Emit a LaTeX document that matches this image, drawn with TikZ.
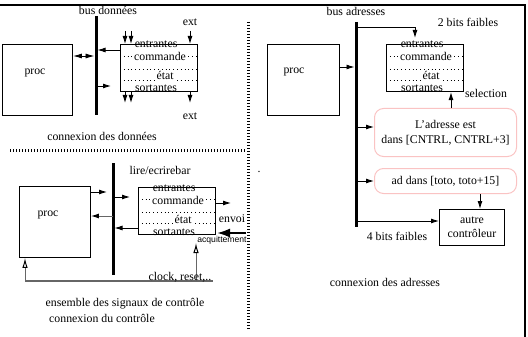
\documentclass[tikz,border=0pt]{standalone}
\usepackage{fontspec}
\setmainfont{Liberation Serif}
\newfontfamily\sansfam{Liberation Sans}
\usetikzlibrary{arrows.meta}
\definecolor{condpink}{RGB}{250,195,195}
\newcommand{\dfont}{\fontsize{11.8}{14}\selectfont}
% controller block: name, x, y of the upper left corner
\newcommand{\ctlunit}[3]{%
  \node[ctl, anchor=north west] (#1) at (#2,#3) {};
  \draw[innerdots] ([yshift=-12pt]#1.north west) -- ([yshift=-12pt]#1.north east);
  \draw[innerdots] ([yshift=-25pt]#1.north west) -- ([yshift=-25pt]#1.north east);
  \draw[innerdots] ([yshift=-36pt]#1.north west) -- ([yshift=-36pt]#1.north east);
  \node[txt] (#1-e) at ([xshift=-3pt,yshift=-1pt]#1.north) {entrantes};
  \node[txt, fill=white, inner xsep=1pt] (#1-c) at ([xshift=1pt,yshift=-14pt]#1.north) {commande};
  \node[txt, fill=white, inner xsep=1pt] (#1-t) at ([xshift=6pt,yshift=-33pt]#1.north) {état};
  \node[txt] (#1-s) at ([xshift=-3pt,yshift=-45pt]#1.north) {sortantes};
}
\begin{document}
\begin{tikzpicture}[x=1pt,y=-1pt,
  txt/.style={inner sep=0pt, font=\dfont, text height=8.5pt, text depth=2.5pt},
  procbox/.style={draw, line width=0.9pt, inner sep=0pt},
  ctl/.style={draw, line width=1.1pt, minimum width=77pt, minimum height=47pt, inner sep=0pt},
  cond/.style={draw=condpink, line width=1pt, rounded corners=9pt, inner sep=0pt, font=\dfont, align=center},
  innerdots/.style={line width=0.8pt, dash pattern=on 0.8pt off 3pt},
  sepdots/.style={line width=3pt, dash pattern=on 1pt off 2pt},
  bus/.style={line width=3pt},
  arr/.style={-{Latex[length=8pt,width=5pt]}, line width=0.9pt},
  dblarr/.style={{Latex[length=9pt,width=5pt]}-{Latex[length=9pt,width=5pt]}, line width=0.9pt},
  greyarr/.style={-{Latex[length=8pt,width=5pt,color=black]}, line width=1pt, draw=black!60},
  bigarr/.style={-{Latex[length=13pt,width=9pt]}, line width=2pt},
  hollow/.style={-{Latex[open,length=10pt,width=5.5pt,color=black,line width=1pt]}, line width=1pt, draw=black!60},
  greyline/.style={line width=1.3pt, draw=black!60}]
\useasboundingbox (0,0) rectangle (528,337);

% outer frame and separators
\draw[line width=2.5pt] (0,5) -- (525,5) -- (525,337);
\draw[sepdots] (248,22) -- (248,330);
\draw[sepdots] (10,150) -- (245,150);
\node[txt] (mark) at (259,169) {.};

% ---------------- data connection ----------------
\node[txt] (busAlbl) at (108,12) {bus données};
\coordinate (busAt) at (96,16);
\coordinate (busAb) at (96,115);
\draw[bus] (busAt) -- (busAb);
\node[procbox, anchor=north west, minimum width=70pt, minimum height=71pt] (procA) at (2,44) {};
\node[txt] (procAlbl) at (35,72) {proc};
\ctlunit{ctlA}{120}{44}
\coordinate (busA1) at (96,56);
\draw[dblarr, shorten >=1.5pt] (procA.east |- busA1) -- (busA1);
\coordinate (busA2) at (96,50);
\draw[arr, shorten >=1.5pt] (ctlA.west |- busA2) -- (busA2);
\coordinate (busA3) at (96,86);
\coordinate (endA3) at (111,86);
\draw[arr] (busA3) -- (endA3);
\coordinate (inA1) at (125,31);
\coordinate (inA2) at (131,31);
\coordinate (inA3) at (190,31);
\draw[arr] (inA1) -- (inA1 |- ctlA.north);
\draw[arr] (inA2) -- (inA2 |- ctlA.north);
\draw[arr] (inA3) -- (inA3 |- ctlA.north);
\coordinate (outA1) at (125,103);
\coordinate (outA2) at (131,103);
\coordinate (outA3) at (190,103);
\draw[arr] (outA1 |- ctlA.south) -- (outA1);
\draw[arr] (outA2 |- ctlA.south) -- (outA2);
\draw[arr] (outA3 |- ctlA.south) -- (outA3);
\node[txt] (extA) at (190,23) {ext};
\node[txt] (extB) at (190,117) {ext};
\node[txt] (capA) at (102,137) {connexion des données};

% ---------------- control connection ----------------
\node[txt] (rwlbl) at (160,172) {lire/ecrirebar};
\coordinate (busBt) at (113,163);
\coordinate (busBb) at (113,275);
\draw[bus] (busBt) -- (busBb);
\node[procbox, anchor=north west, minimum width=71pt, minimum height=71pt] (procB) at (19,186) {};
\node[txt] (procBlbl) at (48,213) {proc};
\ctlunit{ctlB}{138}{187}
\coordinate (endB1) at (107,192);
\draw[arr] (procB.east |- endB1) -- (endB1);
\coordinate (busB2) at (113,216);
\draw[greyarr] (busB2) -- (procB.east |- busB2);
\coordinate (busB3) at (113,197);
\coordinate (endB3) at (130,197);
\draw[arr] (busB3) -- (endB3);
\coordinate (busB4) at (113,228);
\draw[arr, shorten >=1.5pt] (ctlB.west |- busB4) -- (busB4);
\coordinate (envoi) at (231,203);
\draw[arr] (ctlB.east |- envoi) -- (envoi);
\node[txt] (envoilbl) at (232,219) {envoi};
\coordinate (ackS) at (246,233);
\coordinate (ackE) at (217,233);
\draw[bigarr] (ackS) -- (ackE);
\node[inner sep=0pt, font=\sansfam\fontsize{8.6}{10}\selectfont] (acklbl) at (222,240) {acquittement};
\coordinate (ck1) at (25,281);
\coordinate (ck2) at (213,281);
\coordinate (ck3) at (196,281);
\coordinate (ckTip) at (196,243);
\draw[greyline] (ck1) -- (ck2);
\draw[hollow] (ck1) -- (procB.south -| ck1);
\draw[hollow] (ck3) -- (ckTip);
\node[txt] (cklbl) at (180,277) {clock, reset,..};
\node[txt] (capB1) at (125,303) {ensemble des signaux de contrôle};
\node[txt] (capB2) at (102,319) {connexion du contrôle};

% ---------------- address connection ----------------
\node[txt] (busClbl) at (356,13) {bus adresses};
\coordinate (busCt) at (356,22);
\coordinate (busCb) at (356,227);
\draw[bus] (busCt) -- (busCb);
\node[procbox, anchor=north west, minimum width=72pt, minimum height=71pt] (procC) at (267,44) {};
\node[txt] (procClbl) at (294,71) {proc};
\ctlunit{ctlC}{386}{44}
\coordinate (busC1) at (356,67);
\draw[arr, shorten >=1.5pt] (procC.east |- busC1) -- (busC1);
\coordinate (busC2) at (356,27);
\coordinate (cornC2) at (415,27);
\coordinate (tipC2) at (415,38);
\draw[arr] (busC2) -- (cornC2) -- (tipC2);
\node[txt] (lowtwo) at (468,24) {2 bits faibles};
\node[cond, anchor=north west, minimum width=142pt, minimum height=48pt,
      execute at begin node=\setlength{\baselineskip}{15pt}] (condA) at (374,108)
      {L'adresse est\\dans [CNTRL, CNTRL+3]};
\coordinate (selX) at (451,0);
\draw[arr] (condA.north -| selX) -- (ctlC.south -| selX);
\node[txt] (sellbl) at (486,95) {selection};
\coordinate (busC3) at (356,127);
\draw[arr] (busC3) -- (condA.west |- busC3);
\node[cond, anchor=north west, minimum width=142pt, minimum height=25pt] (condB) at (374,168)
      {ad dans [toto, toto+15]};
\coordinate (busC4) at (356,181);
\draw[arr] (busC4) -- (condB.west |- busC4);
\node[procbox, anchor=north west, minimum width=65pt, minimum height=36pt, font=\dfont, align=center,
      execute at begin node=\setlength{\baselineskip}{14pt}] (autre) at (439,209) {autre\\contrôleur};
\coordinate (autX) at (480,0);
\draw[arr] (condB.south -| autX) -- (autre.north -| autX);
\coordinate (busC5) at (356,221);
\draw[arr] (busC5) -- (autre.west |- busC5);
\node[txt] (lowfour) at (397,237) {4 bits faibles};
\node[txt] (capC) at (385,283) {connexion des adresses};
\end{tikzpicture}
\end{document}
